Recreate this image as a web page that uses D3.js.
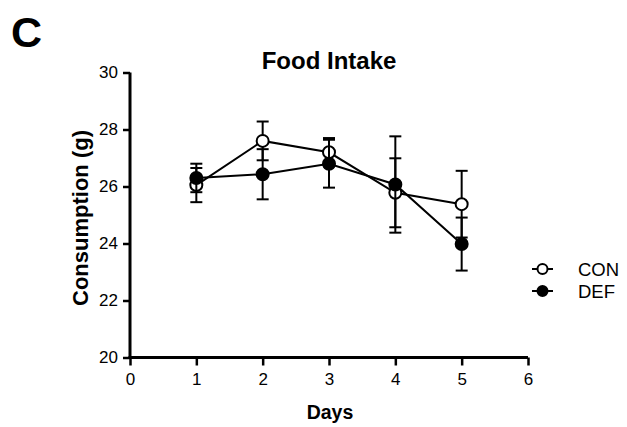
<!DOCTYPE html>
<html><head><meta charset="utf-8">
<script src="https://cdn.jsdelivr.net/npm/d3@7"></script>
<style>body{margin:0;background:#fff}svg{display:block}text{font-family:"Liberation Sans",Arial,sans-serif;fill:#000}</style>
</head><body>
<script>
const days = [1, 2, 3, 4, 5];
const conMean = [26.05, 27.6, 27.2, 25.78, 25.38];
const conErr  = [0.6, 0.68, 0.5, 1.21, 1.17];
const defMean = [26.3, 26.43, 26.8, 26.07, 23.98];
const defErr  = [0.5, 0.88, 0.84, 1.69, 0.93];
const xTicks = [0, 1, 2, 3, 4, 5, 6];
const yTicks = [20, 22, 24, 26, 28, 30];
const seriesNames = ["CON", "DEF"];

const W = 627, H = 427;
const svg = d3.select("body").append("svg").attr("width", W).attr("height", H);
const x = d3.scaleLinear().domain([0, 6]).range([130, 528]);
const y = d3.scaleLinear().domain([20, 30]).range([357.5, 72.5]);

const gx = svg.append("g").attr("transform", `translate(0,${y(20)})`)
  .call(d3.axisBottom(x).tickValues(xTicks).tickSize(8).tickPadding(7).tickFormat(d3.format("d")));
const gy = svg.append("g").attr("transform", `translate(${x(0)},0)`)
  .call(d3.axisLeft(y).tickValues(yTicks).tickSize(7).tickPadding(5).tickFormat(d3.format("d")));
[gx, gy].forEach(g => {
  g.select(".domain").attr("stroke", "#000").attr("stroke-width", 3);
  g.selectAll(".tick line").attr("stroke", "#000").attr("stroke-width", 2.5);
  g.selectAll(".tick text").style("font-size", "17px").style("font-family", "'Liberation Sans',Arial,sans-serif").attr("fill", "#000");
});
gx.select(".domain").attr("d", `M${x(0)-1.5},0H${x(6)}`);
gy.select(".domain").attr("d", `M0,${y(30)}V${y(20)+1.5}`);

// titles
svg.append("text").attr("x", 329).attr("y", 69).attr("text-anchor", "middle")
  .style("font-size", "24px").style("font-weight", "bold").text("Food Intake");
svg.append("text").attr("transform", `translate(88,${(y(20)+y(30))/2 + 3}) rotate(-90)`).attr("text-anchor", "middle")
  .style("font-size", "22px").style("font-weight", "bold").text("Consumption (g)");
svg.append("text").attr("x", 330).attr("y", 419).attr("text-anchor", "middle")
  .style("font-size", "19.5px").style("font-weight", "bold").text("Days");
svg.append("text").attr("x", 11).attr("y", 47)
  .style("font-size", "43px").style("font-weight", "bold").text("C");

const series = [
  {name: seriesNames[0], mean: conMean, err: conErr, fill: "#fff"},
  {name: seriesNames[1], mean: defMean, err: defErr, fill: "#000"}
];
const line = d3.line().x((d, i) => x(days[i])).y(d => y(d));
series.forEach(s => {
  const g = svg.append("g");
  days.forEach((d, i) => {
    const cx = x(d), top = y(s.mean[i] + s.err[i]), bot = y(s.mean[i] - s.err[i]);
    g.append("line").attr("x1", cx).attr("x2", cx).attr("y1", top).attr("y2", bot).attr("stroke", "#000").attr("stroke-width", 2);
    [top, bot].forEach(yy => g.append("line").attr("x1", cx - 6).attr("x2", cx + 6).attr("y1", yy).attr("y2", yy).attr("stroke", "#000").attr("stroke-width", 2));
  });
  g.append("path").attr("d", line(s.mean)).attr("fill", "none").attr("stroke", "#000").attr("stroke-width", 2);
  g.selectAll("circle").data(s.mean).join("circle")
    .attr("cx", (d, i) => x(days[i])).attr("cy", d => y(d)).attr("r", 6)
    .attr("fill", s.fill).attr("stroke", "#000").attr("stroke-width", 2);
});

// legend
series.forEach((s, i) => {
  const ly = 269 + i * 22;
  svg.append("line").attr("x1", 532).attr("x2", 553).attr("y1", ly).attr("y2", ly).attr("stroke", "#000").attr("stroke-width", 2);
  svg.append("circle").attr("cx", 542.5).attr("cy", ly).attr("r", 5).attr("fill", s.fill).attr("stroke", "#000").attr("stroke-width", 2);
  svg.append("text").attr("x", 578).attr("y", ly + 6.5).style("font-size", "18.5px").text(s.name);
});
</script>
</body></html>
